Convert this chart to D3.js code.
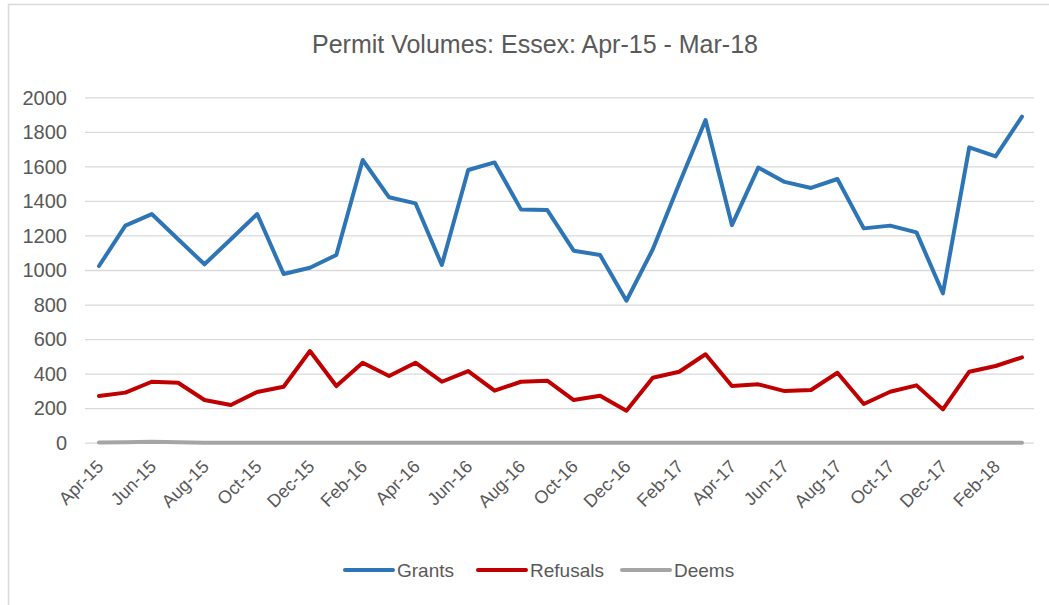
<!DOCTYPE html>
<html>
<head>
<meta charset="utf-8">
<script src="https://cdn.jsdelivr.net/npm/d3@7"></script>
<style>
  html, body { margin: 0; padding: 0; background: #fff; }
  svg { display: block; font-family: "Liberation Sans", Arial, sans-serif; }
</style>
</head>
<body>
<div id="chart"></div>
<script>
// months along the x axis
const months = [
  "Apr-15", "May-15", "Jun-15", "Jul-15", "Aug-15", "Sep-15", "Oct-15", "Nov-15", "Dec-15",
  "Jan-16", "Feb-16", "Mar-16", "Apr-16", "May-16", "Jun-16", "Jul-16", "Aug-16", "Sep-16",
  "Oct-16", "Nov-16", "Dec-16", "Jan-17", "Feb-17", "Mar-17", "Apr-17", "May-17", "Jun-17",
  "Jul-17", "Aug-17", "Sep-17", "Oct-17", "Nov-17", "Dec-17", "Jan-18", "Feb-18", "Mar-18"
];

const grants = [
  1023, 1257, 1324, 1178, 1033, 1178, 1324, 977, 1013,
  1087, 1637, 1421, 1386, 1029, 1579, 1623, 1351, 1347,
  1112, 1087, 822, 1120, 1500, 1868, 1260, 1593, 1510,
  1475, 1527, 1241, 1257, 1218, 865, 1710, 1658, 1888
];

const refusals = [
  270, 290, 353, 347, 247, 218, 294, 324, 531,
  328, 463, 386, 463, 353, 415, 301, 353, 359,
  247, 272, 185, 376, 411, 512, 328, 338, 299,
  305, 405, 224, 295, 332, 193, 411, 444, 494
];

const deems = [
  1, 3, 5, 2, 0, 0, 0, 0, 0,
  0, 0, 0, 0, 0, 0, 0, 0, 0,
  0, 0, 0, 0, 0, 0, 0, 0, 0,
  0, 0, 0, 0, 0, 0, 0, 0, 0
];

const yTicks = [0, 200, 400, 600, 800, 1000, 1200, 1400, 1600, 1800, 2000];

const title = "Permit Volumes: Essex: Apr-15 - Mar-18";

const series = [
  {name: "Grants", values: grants, color: "#2E75B6"},
  {name: "Refusals", values: refusals, color: "#C00000"},
  {name: "Deems", values: deems, color: "#A5A5A5"}
];

const width = 1049;
const height = 605;
const textColor = "#595959";
const gridColor = "#D9D9D9";

const svg = d3.select("#chart")
  .append("svg")
  .attr("width", width)
  .attr("height", height);

// chart frame (only left and top edges fall inside the picture)
svg.append("rect")
  .attr("x", 8.5)
  .attr("y", 4.5)
  .attr("width", width + 20)
  .attr("height", height + 20)
  .attr("fill", "#fff")
  .attr("stroke", "#D9D9D9")
  .attr("stroke-width", 1.5);

svg.append("text")
  .attr("x", 535)
  .attr("y", 53)
  .attr("text-anchor", "middle")
  .attr("fill", textColor)
  .style("font-size", "25px")
  .text(title);

const x = d3.scalePoint()
  .domain(months)
  .range([99, 1022]);

const y = d3.scaleLinear()
  .domain([0, 2000])
  .range([442.7, 97.3]);

// gridlines
svg.append("g")
  .attr("transform", "translate(85,0)")
  .call(d3.axisLeft(y).tickValues(yTicks).tickSize(-949).tickFormat(""))
  .call(g => g.select(".domain").remove())
  .call(g => g.selectAll("line").attr("stroke", gridColor).attr("stroke-width", 1.3));

// y labels
svg.append("g")
  .selectAll("text")
  .data(yTicks)
  .enter()
  .append("text")
  .attr("x", 67)
  .attr("y", d => y(d))
  .attr("dy", "0.36em")
  .attr("text-anchor", "end")
  .attr("fill", textColor)
  .style("font-size", "20px")
  .text(d => d);

// x labels, every second month
const xAxis = d3.axisBottom(x)
  .tickValues(months.filter((m, i) => i % 2 === 0))
  .tickSize(0);

svg.append("g")
  .attr("transform", `translate(0,${y(0)})`)
  .call(xAxis)
  .call(g => g.select(".domain").remove())
  .call(g => g.selectAll("text")
    .attr("fill", textColor)
    .style("font-size", "18px")
    .style("font-family", "'Liberation Sans', Arial, sans-serif")
    .attr("text-anchor", "end")
    .attr("dy", null)
    .attr("y", 0)
    .attr("transform", "translate(5,25) rotate(-45)"));

const line = d3.line()
  .x((d, i) => x(months[i]))
  .y(d => y(d));

svg.append("g")
  .selectAll("path")
  .data(series.slice().reverse())
  .enter()
  .append("path")
  .attr("d", d => line(d.values))
  .attr("fill", "none")
  .attr("stroke", d => d.color)
  .attr("stroke-width", 4)
  .attr("stroke-linejoin", "round")
  .attr("stroke-linecap", "round");

// legend
const legendX = [345, 478, 622];
const legend = svg.append("g")
  .selectAll("g")
  .data(series)
  .enter()
  .append("g")
  .attr("transform", (d, i) => `translate(${legendX[i]},570)`);

legend.append("line")
  .attr("x1", 0)
  .attr("x2", 48)
  .attr("stroke", d => d.color)
  .attr("stroke-width", 4)
  .attr("stroke-linecap", "round");

legend.append("text")
  .attr("x", 52)
  .attr("dy", "0.36em")
  .attr("fill", textColor)
  .style("font-size", "19px")
  .text(d => d.name);
</script>
</body>
</html>
